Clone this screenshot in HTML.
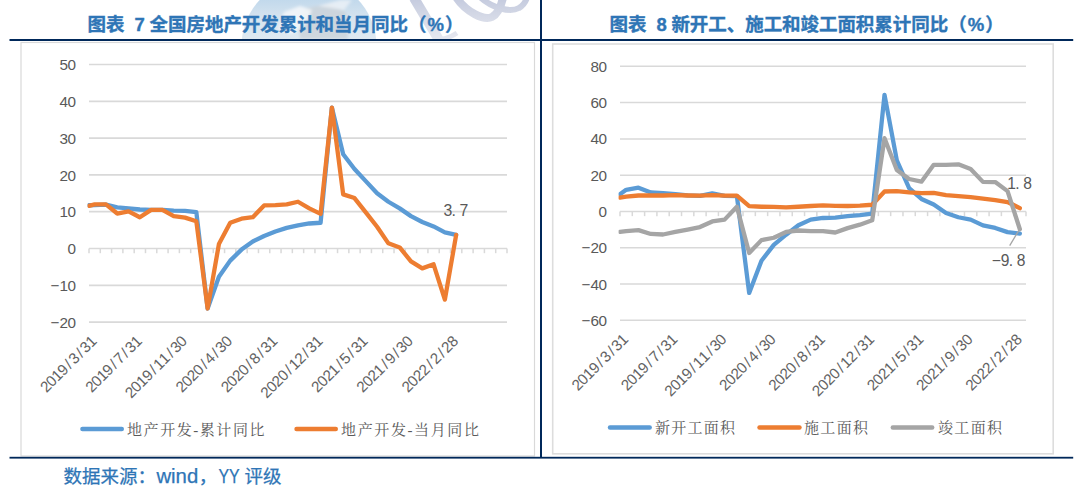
<!DOCTYPE html>
<html lang="zh-CN"><head><meta charset="utf-8"><title>chart</title>
<style>
html,body{margin:0;padding:0;background:#fff;}
body{width:1080px;height:489px;position:relative;overflow:hidden;font-family:"Liberation Sans","Noto Sans CJK SC",sans-serif;}
</style></head><body>
<svg width="1080" height="489" viewBox="0 0 1080 489" style="position:absolute;left:0;top:0" font-family="'Liberation Sans', 'Noto Sans CJK SC', sans-serif">
<defs><clipPath id="cp89"><rect x="87.6" y="40" width="440" height="300"/></clipPath><clipPath id="cp620"><rect x="618.6" y="40" width="440" height="300"/></clipPath><clipPath id="wm"><rect x="0" y="0" width="540" height="39"/></clipPath><filter id="bl" x="-20%" y="-20%" width="140%" height="140%"><feGaussianBlur stdDeviation="1.6"/></filter><filter id="bl2" x="-20%" y="-20%" width="140%" height="140%"><feGaussianBlur stdDeviation="0.7"/></filter><linearGradient id="gd" gradientUnits="userSpaceOnUse" x1="0" y1="0" x2="0" y2="40"><stop offset="0" stop-color="#C2D9EC"/><stop offset="0.45" stop-color="#D6E4EF"/><stop offset="1" stop-color="#DFE9F1"/></linearGradient><linearGradient id="gs" gradientUnits="userSpaceOnUse" x1="0" y1="0" x2="0" y2="40"><stop offset="0" stop-color="#C6CCDF"/><stop offset="0.5" stop-color="#D8DCE8"/><stop offset="1" stop-color="#E6E8F0"/></linearGradient></defs>
<g clip-path="url(#wm)"><circle cx="309" cy="46" r="67.5" fill="url(#gd)" filter="url(#bl2)"/><g filter="url(#bl)"><path d="M300,39 L298,20 L306,8 L330,4 L346,12 L348,39 Z" fill="#CBD3DB" opacity="0.85"/><path d="M278,30 L284,12 L300,6 L312,10 L306,24 L292,34 Z" fill="#F3F6FA" opacity="0.9"/><path d="M318,6 L340,0 L352,0 L344,10 Z" fill="#EEF3F8" opacity="0.8"/></g><g filter="url(#bl2)" fill="none" stroke="url(#gs)"><path d="M414,-2 L439,40" stroke-width="10"/><path d="M434,40 C444,40 451,37 457,33" stroke-width="5"/><path d="M456,-3 C466,12 484,21 492,17 C498,14 501,6 503,-2" stroke-width="8"/><path d="M480,-3 C492,8 510,13 519,8 C523,6 525,3 527,-2" stroke-width="6"/></g></g>
<rect x="21" y="42.5" width="513.5" height="413.5" fill="#fff" stroke="#D9D9D9" stroke-width="1.2"/>
<rect x="552.7" y="44" width="500.5" height="409.8" fill="#fff" stroke="#DDDDDD" stroke-width="1.6"/>
<rect x="9.5" y="39" width="1063.7" height="2" fill="#00285A"/>
<rect x="9.5" y="456.8" width="1063.7" height="1.8" fill="#00285A"/>
<rect x="540" y="0" width="2" height="458" fill="#00285A"/>
<text y="30.7" font-size="18.5" font-weight="bold" fill="#2E75B6" stroke="#2E75B6" stroke-width="0.35"><tspan x="87.6" textLength="36.90">图表</tspan> <tspan x="134.6">7</tspan> <tspan x="149.6" textLength="258.30">全国房地产开发累计和当月同比</tspan><tspan x="407.90">（</tspan><tspan x="435.65" text-anchor="middle">%</tspan><tspan x="445.10">）</tspan></text>
<text y="30.7" font-size="18.5" font-weight="bold" fill="#2E75B6" stroke="#2E75B6" stroke-width="0.35"><tspan x="609.6" textLength="36.90">图表</tspan> <tspan x="656.6">8</tspan> <tspan x="671.4" textLength="276.75">新开工、施工和竣工面积累计同比</tspan><tspan x="948.15">（</tspan><tspan x="975.90" text-anchor="middle">%</tspan><tspan x="985.35">）</tspan></text>
<text y="482.6" font-size="18.5" fill="#2E75B6" stroke="#2E75B6" stroke-width="0.25"><tspan x="63.4" textLength="74">数据来源</tspan><tspan x="137.6">：</tspan><tspan x="156.4" font-size="20" textLength="41.8" lengthAdjust="spacingAndGlyphs">wind</tspan><tspan x="198.8">，</tspan><tspan x="218.4" font-size="20.5" textLength="21.2" lengthAdjust="spacingAndGlyphs">YY</tspan> <tspan x="244.6" textLength="37">评级</tspan></text>
<line x1="89" y1="64.50" x2="507" y2="64.50" stroke="#D9D9D9" stroke-width="1.7"/>
<text x="63.70 71.70" y="70.10" text-anchor="middle" font-size="15.3" fill="#595959" >50</text>
<line x1="89" y1="101.30" x2="507" y2="101.30" stroke="#D9D9D9" stroke-width="1.7"/>
<text x="63.70 71.70" y="106.90" text-anchor="middle" font-size="15.3" fill="#595959" >40</text>
<line x1="89" y1="138.10" x2="507" y2="138.10" stroke="#D9D9D9" stroke-width="1.7"/>
<text x="63.70 71.70" y="143.70" text-anchor="middle" font-size="15.3" fill="#595959" >30</text>
<line x1="89" y1="174.90" x2="507" y2="174.90" stroke="#D9D9D9" stroke-width="1.7"/>
<text x="63.70 71.70" y="180.50" text-anchor="middle" font-size="15.3" fill="#595959" >20</text>
<line x1="89" y1="211.70" x2="507" y2="211.70" stroke="#D9D9D9" stroke-width="1.7"/>
<text x="63.70 71.70" y="217.30" text-anchor="middle" font-size="15.3" fill="#595959" >10</text>
<line x1="89" y1="248.50" x2="507" y2="248.50" stroke="#D9D9D9" stroke-width="1.7"/>
<text x="71.70" y="254.10" text-anchor="middle" font-size="15.3" fill="#595959" >0</text>
<line x1="89" y1="285.30" x2="507" y2="285.30" stroke="#D9D9D9" stroke-width="1.7"/>
<text x="54.90 63.70 71.70" y="290.90" text-anchor="middle" font-size="15.3" fill="#595959" >−10</text>
<line x1="89" y1="322.10" x2="507" y2="322.10" stroke="#D9D9D9" stroke-width="1.7"/>
<text x="54.90 63.70 71.70" y="327.70" text-anchor="middle" font-size="15.3" fill="#595959" >−20</text>
<line x1="89.00" y1="248.50" x2="89.00" y2="253.20" stroke="#D9D9D9" stroke-width="1.5"/>
<line x1="100.30" y1="248.50" x2="100.30" y2="253.20" stroke="#D9D9D9" stroke-width="1.5"/>
<line x1="111.59" y1="248.50" x2="111.59" y2="253.20" stroke="#D9D9D9" stroke-width="1.5"/>
<line x1="122.89" y1="248.50" x2="122.89" y2="253.20" stroke="#D9D9D9" stroke-width="1.5"/>
<line x1="134.19" y1="248.50" x2="134.19" y2="253.20" stroke="#D9D9D9" stroke-width="1.5"/>
<line x1="145.49" y1="248.50" x2="145.49" y2="253.20" stroke="#D9D9D9" stroke-width="1.5"/>
<line x1="156.78" y1="248.50" x2="156.78" y2="253.20" stroke="#D9D9D9" stroke-width="1.5"/>
<line x1="168.08" y1="248.50" x2="168.08" y2="253.20" stroke="#D9D9D9" stroke-width="1.5"/>
<line x1="179.38" y1="248.50" x2="179.38" y2="253.20" stroke="#D9D9D9" stroke-width="1.5"/>
<line x1="190.68" y1="248.50" x2="190.68" y2="253.20" stroke="#D9D9D9" stroke-width="1.5"/>
<line x1="201.97" y1="248.50" x2="201.97" y2="253.20" stroke="#D9D9D9" stroke-width="1.5"/>
<line x1="213.27" y1="248.50" x2="213.27" y2="253.20" stroke="#D9D9D9" stroke-width="1.5"/>
<line x1="224.57" y1="248.50" x2="224.57" y2="253.20" stroke="#D9D9D9" stroke-width="1.5"/>
<line x1="235.86" y1="248.50" x2="235.86" y2="253.20" stroke="#D9D9D9" stroke-width="1.5"/>
<line x1="247.16" y1="248.50" x2="247.16" y2="253.20" stroke="#D9D9D9" stroke-width="1.5"/>
<line x1="258.46" y1="248.50" x2="258.46" y2="253.20" stroke="#D9D9D9" stroke-width="1.5"/>
<line x1="269.76" y1="248.50" x2="269.76" y2="253.20" stroke="#D9D9D9" stroke-width="1.5"/>
<line x1="281.05" y1="248.50" x2="281.05" y2="253.20" stroke="#D9D9D9" stroke-width="1.5"/>
<line x1="292.35" y1="248.50" x2="292.35" y2="253.20" stroke="#D9D9D9" stroke-width="1.5"/>
<line x1="303.65" y1="248.50" x2="303.65" y2="253.20" stroke="#D9D9D9" stroke-width="1.5"/>
<line x1="314.95" y1="248.50" x2="314.95" y2="253.20" stroke="#D9D9D9" stroke-width="1.5"/>
<line x1="326.24" y1="248.50" x2="326.24" y2="253.20" stroke="#D9D9D9" stroke-width="1.5"/>
<line x1="337.54" y1="248.50" x2="337.54" y2="253.20" stroke="#D9D9D9" stroke-width="1.5"/>
<line x1="348.84" y1="248.50" x2="348.84" y2="253.20" stroke="#D9D9D9" stroke-width="1.5"/>
<line x1="360.14" y1="248.50" x2="360.14" y2="253.20" stroke="#D9D9D9" stroke-width="1.5"/>
<line x1="371.43" y1="248.50" x2="371.43" y2="253.20" stroke="#D9D9D9" stroke-width="1.5"/>
<line x1="382.73" y1="248.50" x2="382.73" y2="253.20" stroke="#D9D9D9" stroke-width="1.5"/>
<line x1="394.03" y1="248.50" x2="394.03" y2="253.20" stroke="#D9D9D9" stroke-width="1.5"/>
<line x1="405.32" y1="248.50" x2="405.32" y2="253.20" stroke="#D9D9D9" stroke-width="1.5"/>
<line x1="416.62" y1="248.50" x2="416.62" y2="253.20" stroke="#D9D9D9" stroke-width="1.5"/>
<line x1="427.92" y1="248.50" x2="427.92" y2="253.20" stroke="#D9D9D9" stroke-width="1.5"/>
<line x1="439.22" y1="248.50" x2="439.22" y2="253.20" stroke="#D9D9D9" stroke-width="1.5"/>
<line x1="450.51" y1="248.50" x2="450.51" y2="253.20" stroke="#D9D9D9" stroke-width="1.5"/>
<line x1="461.81" y1="248.50" x2="461.81" y2="253.20" stroke="#D9D9D9" stroke-width="1.5"/>
<line x1="473.11" y1="248.50" x2="473.11" y2="253.20" stroke="#D9D9D9" stroke-width="1.5"/>
<line x1="484.41" y1="248.50" x2="484.41" y2="253.20" stroke="#D9D9D9" stroke-width="1.5"/>
<line x1="495.70" y1="248.50" x2="495.70" y2="253.20" stroke="#D9D9D9" stroke-width="1.5"/>
<line x1="507.00" y1="248.50" x2="507.00" y2="253.20" stroke="#D9D9D9" stroke-width="1.5"/>
<g transform="translate(92.85,339.0) rotate(-45)"><text x="-67.00 -59.00 -51.00 -43.00 -35.00 -27.00 -19.00 -11.00 -3.00" y="5.60" text-anchor="middle" font-size="15.3" fill="#636363" >2019/3/31</text></g>
<g transform="translate(138.04,339.0) rotate(-45)"><text x="-67.00 -59.00 -51.00 -43.00 -35.00 -27.00 -19.00 -11.00 -3.00" y="5.60" text-anchor="middle" font-size="15.3" fill="#636363" >2019/7/31</text></g>
<g transform="translate(183.23,339.0) rotate(-45)"><text x="-75.00 -67.00 -59.00 -51.00 -43.00 -35.00 -27.00 -19.00 -11.00 -3.00" y="5.60" text-anchor="middle" font-size="15.3" fill="#636363" >2019/11/30</text></g>
<g transform="translate(228.42,339.0) rotate(-45)"><text x="-67.00 -59.00 -51.00 -43.00 -35.00 -27.00 -19.00 -11.00 -3.00" y="5.60" text-anchor="middle" font-size="15.3" fill="#636363" >2020/4/30</text></g>
<g transform="translate(273.61,339.0) rotate(-45)"><text x="-67.00 -59.00 -51.00 -43.00 -35.00 -27.00 -19.00 -11.00 -3.00" y="5.60" text-anchor="middle" font-size="15.3" fill="#636363" >2020/8/31</text></g>
<g transform="translate(318.79,339.0) rotate(-45)"><text x="-75.00 -67.00 -59.00 -51.00 -43.00 -35.00 -27.00 -19.00 -11.00 -3.00" y="5.60" text-anchor="middle" font-size="15.3" fill="#636363" >2020/12/31</text></g>
<g transform="translate(363.98,339.0) rotate(-45)"><text x="-67.00 -59.00 -51.00 -43.00 -35.00 -27.00 -19.00 -11.00 -3.00" y="5.60" text-anchor="middle" font-size="15.3" fill="#636363" >2021/5/31</text></g>
<g transform="translate(409.17,339.0) rotate(-45)"><text x="-67.00 -59.00 -51.00 -43.00 -35.00 -27.00 -19.00 -11.00 -3.00" y="5.60" text-anchor="middle" font-size="15.3" fill="#636363" >2021/9/30</text></g>
<g transform="translate(454.36,339.0) rotate(-45)"><text x="-67.00 -59.00 -51.00 -43.00 -35.00 -27.00 -19.00 -11.00 -3.00" y="5.60" text-anchor="middle" font-size="15.3" fill="#636363" >2022/2/28</text></g>
<path d="M89.00,205.26 L94.65,205.08 L105.95,204.71 L117.24,207.28 L128.54,208.39 L139.84,209.49 L151.14,209.86 L162.43,209.86 L173.73,210.60 L185.03,210.96 L196.32,212.07 L207.62,308.48 L218.92,276.84 L230.22,260.64 L241.51,249.60 L252.81,241.51 L264.11,235.99 L275.41,231.57 L286.70,227.89 L298.00,225.32 L309.30,223.48 L320.59,222.74 L331.89,107.56 L343.19,154.29 L354.49,169.01 L365.78,181.16 L377.08,193.30 L388.38,201.76 L399.68,208.39 L410.97,216.12 L422.27,222.00 L433.57,226.42 L444.86,232.31 L456.16,234.88" fill="none" stroke="#5B9BD5" stroke-width="4.3" stroke-linejoin="round" stroke-linecap="round" clip-path="url(#cp89)"/>
<path d="M89.00,205.81 L94.65,204.34 L105.95,204.34 L117.24,213.54 L128.54,211.33 L139.84,217.22 L151.14,209.86 L162.43,209.86 L173.73,216.12 L185.03,217.59 L196.32,221.27 L207.62,308.48 L218.92,244.08 L230.22,222.74 L241.51,218.69 L252.81,217.22 L264.11,205.44 L275.41,205.08 L286.70,204.34 L298.00,201.76 L309.30,208.39 L320.59,213.91 L331.89,107.56 L343.19,194.40 L354.49,198.08 L365.78,212.44 L377.08,226.79 L388.38,243.35 L399.68,247.40 L410.97,261.38 L422.27,268.37 L433.57,264.32 L444.86,299.65 L456.16,234.88" fill="none" stroke="#ED7D31" stroke-width="4.3" stroke-linejoin="round" stroke-linecap="round" clip-path="url(#cp89)"/>
<line x1="620" y1="66.33" x2="1026" y2="66.33" stroke="#D9D9D9" stroke-width="1.5"/>
<text x="594.70 602.70" y="71.93" text-anchor="middle" font-size="15.3" fill="#595959" >80</text>
<line x1="620" y1="102.61" x2="1026" y2="102.61" stroke="#D9D9D9" stroke-width="1.5"/>
<text x="594.70 602.70" y="108.21" text-anchor="middle" font-size="15.3" fill="#595959" >60</text>
<line x1="620" y1="138.89" x2="1026" y2="138.89" stroke="#D9D9D9" stroke-width="1.5"/>
<text x="594.70 602.70" y="144.49" text-anchor="middle" font-size="15.3" fill="#595959" >40</text>
<line x1="620" y1="175.17" x2="1026" y2="175.17" stroke="#D9D9D9" stroke-width="1.5"/>
<text x="594.70 602.70" y="180.77" text-anchor="middle" font-size="15.3" fill="#595959" >20</text>
<line x1="620" y1="211.45" x2="1026" y2="211.45" stroke="#D9D9D9" stroke-width="1.5"/>
<text x="602.70" y="217.05" text-anchor="middle" font-size="15.3" fill="#595959" >0</text>
<line x1="620" y1="247.73" x2="1026" y2="247.73" stroke="#D9D9D9" stroke-width="1.5"/>
<text x="585.90 594.70 602.70" y="253.33" text-anchor="middle" font-size="15.3" fill="#595959" >−20</text>
<line x1="620" y1="284.01" x2="1026" y2="284.01" stroke="#D9D9D9" stroke-width="1.5"/>
<text x="585.90 594.70 602.70" y="289.61" text-anchor="middle" font-size="15.3" fill="#595959" >−40</text>
<line x1="620" y1="320.29" x2="1026" y2="320.29" stroke="#D9D9D9" stroke-width="1.5"/>
<text x="585.90 594.70 602.70" y="325.89" text-anchor="middle" font-size="15.3" fill="#595959" >−60</text>
<line x1="620.00" y1="211.45" x2="620.00" y2="216.15" stroke="#D9D9D9" stroke-width="1.5"/>
<line x1="632.30" y1="211.45" x2="632.30" y2="216.15" stroke="#D9D9D9" stroke-width="1.5"/>
<line x1="644.61" y1="211.45" x2="644.61" y2="216.15" stroke="#D9D9D9" stroke-width="1.5"/>
<line x1="656.91" y1="211.45" x2="656.91" y2="216.15" stroke="#D9D9D9" stroke-width="1.5"/>
<line x1="669.21" y1="211.45" x2="669.21" y2="216.15" stroke="#D9D9D9" stroke-width="1.5"/>
<line x1="681.52" y1="211.45" x2="681.52" y2="216.15" stroke="#D9D9D9" stroke-width="1.5"/>
<line x1="693.82" y1="211.45" x2="693.82" y2="216.15" stroke="#D9D9D9" stroke-width="1.5"/>
<line x1="706.12" y1="211.45" x2="706.12" y2="216.15" stroke="#D9D9D9" stroke-width="1.5"/>
<line x1="718.42" y1="211.45" x2="718.42" y2="216.15" stroke="#D9D9D9" stroke-width="1.5"/>
<line x1="730.73" y1="211.45" x2="730.73" y2="216.15" stroke="#D9D9D9" stroke-width="1.5"/>
<line x1="743.03" y1="211.45" x2="743.03" y2="216.15" stroke="#D9D9D9" stroke-width="1.5"/>
<line x1="755.33" y1="211.45" x2="755.33" y2="216.15" stroke="#D9D9D9" stroke-width="1.5"/>
<line x1="767.64" y1="211.45" x2="767.64" y2="216.15" stroke="#D9D9D9" stroke-width="1.5"/>
<line x1="779.94" y1="211.45" x2="779.94" y2="216.15" stroke="#D9D9D9" stroke-width="1.5"/>
<line x1="792.24" y1="211.45" x2="792.24" y2="216.15" stroke="#D9D9D9" stroke-width="1.5"/>
<line x1="804.55" y1="211.45" x2="804.55" y2="216.15" stroke="#D9D9D9" stroke-width="1.5"/>
<line x1="816.85" y1="211.45" x2="816.85" y2="216.15" stroke="#D9D9D9" stroke-width="1.5"/>
<line x1="829.15" y1="211.45" x2="829.15" y2="216.15" stroke="#D9D9D9" stroke-width="1.5"/>
<line x1="841.45" y1="211.45" x2="841.45" y2="216.15" stroke="#D9D9D9" stroke-width="1.5"/>
<line x1="853.76" y1="211.45" x2="853.76" y2="216.15" stroke="#D9D9D9" stroke-width="1.5"/>
<line x1="866.06" y1="211.45" x2="866.06" y2="216.15" stroke="#D9D9D9" stroke-width="1.5"/>
<line x1="878.36" y1="211.45" x2="878.36" y2="216.15" stroke="#D9D9D9" stroke-width="1.5"/>
<line x1="890.67" y1="211.45" x2="890.67" y2="216.15" stroke="#D9D9D9" stroke-width="1.5"/>
<line x1="902.97" y1="211.45" x2="902.97" y2="216.15" stroke="#D9D9D9" stroke-width="1.5"/>
<line x1="915.27" y1="211.45" x2="915.27" y2="216.15" stroke="#D9D9D9" stroke-width="1.5"/>
<line x1="927.58" y1="211.45" x2="927.58" y2="216.15" stroke="#D9D9D9" stroke-width="1.5"/>
<line x1="939.88" y1="211.45" x2="939.88" y2="216.15" stroke="#D9D9D9" stroke-width="1.5"/>
<line x1="952.18" y1="211.45" x2="952.18" y2="216.15" stroke="#D9D9D9" stroke-width="1.5"/>
<line x1="964.48" y1="211.45" x2="964.48" y2="216.15" stroke="#D9D9D9" stroke-width="1.5"/>
<line x1="976.79" y1="211.45" x2="976.79" y2="216.15" stroke="#D9D9D9" stroke-width="1.5"/>
<line x1="989.09" y1="211.45" x2="989.09" y2="216.15" stroke="#D9D9D9" stroke-width="1.5"/>
<line x1="1001.39" y1="211.45" x2="1001.39" y2="216.15" stroke="#D9D9D9" stroke-width="1.5"/>
<line x1="1013.70" y1="211.45" x2="1013.70" y2="216.15" stroke="#D9D9D9" stroke-width="1.5"/>
<line x1="1026.00" y1="211.45" x2="1026.00" y2="216.15" stroke="#D9D9D9" stroke-width="1.5"/>
<g transform="translate(624.35,337.2) rotate(-45)"><text x="-67.00 -59.00 -51.00 -43.00 -35.00 -27.00 -19.00 -11.00 -3.00" y="5.60" text-anchor="middle" font-size="15.3" fill="#636363" >2019/3/31</text></g>
<g transform="translate(673.56,337.2) rotate(-45)"><text x="-67.00 -59.00 -51.00 -43.00 -35.00 -27.00 -19.00 -11.00 -3.00" y="5.60" text-anchor="middle" font-size="15.3" fill="#636363" >2019/7/31</text></g>
<g transform="translate(722.78,337.2) rotate(-45)"><text x="-75.00 -67.00 -59.00 -51.00 -43.00 -35.00 -27.00 -19.00 -11.00 -3.00" y="5.60" text-anchor="middle" font-size="15.3" fill="#636363" >2019/11/30</text></g>
<g transform="translate(771.99,337.2) rotate(-45)"><text x="-67.00 -59.00 -51.00 -43.00 -35.00 -27.00 -19.00 -11.00 -3.00" y="5.60" text-anchor="middle" font-size="15.3" fill="#636363" >2020/4/30</text></g>
<g transform="translate(821.20,337.2) rotate(-45)"><text x="-67.00 -59.00 -51.00 -43.00 -35.00 -27.00 -19.00 -11.00 -3.00" y="5.60" text-anchor="middle" font-size="15.3" fill="#636363" >2020/8/31</text></g>
<g transform="translate(870.41,337.2) rotate(-45)"><text x="-75.00 -67.00 -59.00 -51.00 -43.00 -35.00 -27.00 -19.00 -11.00 -3.00" y="5.60" text-anchor="middle" font-size="15.3" fill="#636363" >2020/12/31</text></g>
<g transform="translate(919.62,337.2) rotate(-45)"><text x="-67.00 -59.00 -51.00 -43.00 -35.00 -27.00 -19.00 -11.00 -3.00" y="5.60" text-anchor="middle" font-size="15.3" fill="#636363" >2021/5/31</text></g>
<g transform="translate(968.84,337.2) rotate(-45)"><text x="-67.00 -59.00 -51.00 -43.00 -35.00 -27.00 -19.00 -11.00 -3.00" y="5.60" text-anchor="middle" font-size="15.3" fill="#636363" >2021/9/30</text></g>
<g transform="translate(1018.05,337.2) rotate(-45)"><text x="-67.00 -59.00 -51.00 -43.00 -35.00 -27.00 -19.00 -11.00 -3.00" y="5.60" text-anchor="middle" font-size="15.3" fill="#636363" >2022/2/28</text></g>
<path d="M620.00,194.22 L626.15,189.86 L638.45,187.69 L650.76,192.40 L663.06,193.13 L675.36,194.22 L687.67,195.31 L699.97,195.85 L712.27,193.31 L724.58,195.85 L736.88,196.03 L749.18,292.90 L761.48,260.79 L773.79,244.83 L786.09,234.67 L798.39,225.24 L810.70,219.61 L823.00,217.98 L835.30,217.62 L847.61,216.17 L859.91,215.08 L872.21,213.63 L884.52,94.81 L896.82,160.30 L909.12,188.23 L921.42,198.93 L933.73,204.56 L946.03,213.08 L958.33,217.25 L970.64,219.61 L982.94,225.42 L995.24,227.96 L1007.55,232.13 L1019.85,233.58" fill="none" stroke="#5B9BD5" stroke-width="4.3" stroke-linejoin="round" stroke-linecap="round" clip-path="url(#cp620)"/>
<path d="M620.00,197.66 L626.15,196.58 L638.45,195.49 L650.76,195.49 L663.06,195.49 L675.36,195.12 L687.67,195.49 L699.97,195.67 L712.27,195.12 L724.58,195.67 L736.88,195.67 L749.18,206.19 L761.48,206.73 L773.79,206.91 L786.09,207.28 L798.39,206.73 L810.70,206.01 L823.00,205.46 L835.30,205.83 L847.61,206.01 L859.91,205.65 L872.21,204.74 L884.52,191.50 L896.82,191.13 L909.12,192.40 L921.42,193.13 L933.73,192.95 L946.03,195.12 L958.33,196.21 L970.64,197.12 L982.94,198.57 L995.24,200.02 L1007.55,202.02 L1019.85,208.18" fill="none" stroke="#ED7D31" stroke-width="4.3" stroke-linejoin="round" stroke-linecap="round" clip-path="url(#cp620)"/>
<path d="M620.00,231.77 L626.15,231.04 L638.45,230.13 L650.76,233.94 L663.06,234.49 L675.36,231.95 L687.67,229.59 L699.97,227.05 L712.27,221.43 L724.58,219.61 L736.88,206.73 L749.18,252.99 L761.48,240.11 L773.79,237.75 L786.09,231.95 L798.39,230.50 L810.70,231.22 L823.00,231.04 L835.30,232.49 L847.61,228.14 L859.91,224.69 L872.21,220.34 L884.52,138.16 L896.82,169.91 L909.12,178.98 L921.42,181.70 L933.73,164.83 L946.03,164.83 L958.33,164.29 L970.64,169.00 L982.94,181.88 L995.24,182.06 L1007.55,191.13 L1019.85,229.23" fill="none" stroke="#A5A5A5" stroke-width="4.3" stroke-linejoin="round" stroke-linecap="round" clip-path="url(#cp620)"/>
<text x="447.80 453.60 463.80" y="215.50" text-anchor="middle" font-size="15.8" fill="#595959" >3.7</text>
<text x="1011.50 1017.30 1027.50" y="188.70" text-anchor="middle" font-size="15.6" fill="#595959" >1.8</text>
<text x="996.20 1005.00 1010.80 1021.00" y="265.90" text-anchor="middle" font-size="15.6" fill="#595959" >−9.8</text>
<line x1="1009.7" y1="245.7" x2="1018.9" y2="230.3" stroke="#A5A5A5" stroke-width="1.3"/>
<line x1="82.4" y1="429" x2="121.8" y2="429" stroke="#5B9BD5" stroke-width="4.4" stroke-linecap="round"/><text x="127" y="434.6" font-size="15" fill="#595959" font-family="'Liberation Serif', 'Noto Serif CJK SC', serif" textLength="137.5" lengthAdjust="spacing">地产开发-累计同比</text>
<line x1="296.5" y1="429" x2="335.8" y2="429" stroke="#ED7D31" stroke-width="4.4" stroke-linecap="round"/><text x="341" y="434.6" font-size="15" fill="#595959" font-family="'Liberation Serif', 'Noto Serif CJK SC', serif" textLength="138" lengthAdjust="spacing">地产开发-当月同比</text>
<line x1="610" y1="427.5" x2="649.7" y2="427.5" stroke="#5B9BD5" stroke-width="4.4" stroke-linecap="round"/><text x="655" y="433.1" font-size="15" fill="#595959" font-family="'Liberation Serif', 'Noto Serif CJK SC', serif" textLength="80" lengthAdjust="spacing">新开工面积</text>
<line x1="759.5" y1="427.5" x2="799.5" y2="427.5" stroke="#ED7D31" stroke-width="4.4" stroke-linecap="round"/><text x="804" y="433.1" font-size="15" fill="#595959" font-family="'Liberation Serif', 'Noto Serif CJK SC', serif" textLength="64" lengthAdjust="spacing">施工面积</text>
<line x1="892.8" y1="427.5" x2="932.2" y2="427.5" stroke="#A5A5A5" stroke-width="4.4" stroke-linecap="round"/><text x="938" y="433.1" font-size="15" fill="#595959" font-family="'Liberation Serif', 'Noto Serif CJK SC', serif" textLength="64" lengthAdjust="spacing">竣工面积</text>
</svg>
</body></html>
